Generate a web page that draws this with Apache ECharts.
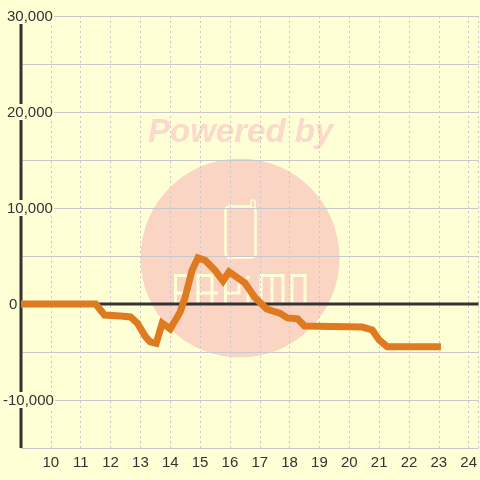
<!DOCTYPE html>
<html><head><meta charset="utf-8">
<style>html,body{margin:0;padding:0;background:#FFFFD5}#c{width:480px;height:480px}</style>
<script src="https://cdn.jsdelivr.net/npm/echarts@6/dist/echarts.min.js"></script></head>
<body><div id="c"></div>
<script>
var hours=[9,11.5,11.8,12.33,12.67,12.9,13.17,13.33,13.53,13.73,14,14.33,14.5,14.73,14.93,15.17,15.5,15.77,15.97,16.23,16.5,16.83,17.23,17.43,17.67,17.93,18.27,18.5,20.43,20.77,21,21.27,23.07];
var values=[0,0,-1150,-1250,-1350,-2000,-3400,-3950,-4100,-2000,-2600,-850,700,3500,4800,4550,3500,2400,3350,2800,2200,700,-520,-730,-950,-1450,-1550,-2290,-2400,-2700,-3750,-4450,-4450];
var yTickLabels=[30000,20000,10000,0,-10000];
var labelPad={'30000':4,'20000':4,'10000':4,'0':6,'-10000':0};
var yLineFrom=-15000,yLineTo=29167;
var xMin=9,xMax=24.33;
var lineData=hours.map(function(h,i){return [h,values[i]];});
var c=echarts.init(document.getElementById('c'));
var ink='#333333',grid='#C8C8CC',pink='#FBD5C4',cream='#FFFFD5';
function fmt(v){return String(v).replace(/\B(?=(\d{3})+$)/g,',');}
var rich={};
yTickLabels.forEach(function(v){rich['k'+(v<0?'n':'')+Math.abs(v)]={padding:[1,1,0,labelPad[v]],backgroundColor:cream,fontSize:15,color:ink,fontFamily:'Liberation Sans',lineHeight:14};});
function logo(points){return {type:'polyline',z:-9,shape:{points:points},style:{fill:'none',stroke:cream,lineWidth:3}};}
c.setOption({
 animation:false,backgroundColor:cream,
 grid:{left:20,right:0,top:16,bottom:32,containLabel:false},
 graphic:{elements:[
  {type:'circle',z:-10,shape:{cx:240,cy:258,r:99.5},style:{fill:pink}},
  {type:'text',z:-10,left:148,top:116,style:{text:'Powered by',font:'italic bold 33px "Liberation Sans"',fill:'#FBD9CB'}},
  {type:'rect',z:-9,shape:{x:225.5,y:206.5,width:30,height:51,r:4},style:{fill:'none',stroke:cream,lineWidth:2.5}},
  {type:'rect',z:-9,shape:{x:251,y:200,width:4,height:8,r:2},style:{fill:pink,stroke:cream,lineWidth:1.5}},
  logo([[175.5,304],[175.5,275.5],[189,275.5],[189,293],[175.5,293]]),
  logo([[198,304],[198,275.5],[212,275.5],[212,304]]),
  logo([[196,293],[218,293]]),
  logo([[225.5,304],[225.5,275.5],[239,275.5],[239,293],[225.5,293]]),
  logo([[248,304],[248,285]]),
  logo([[248,276],[248,279]]),
  logo([[261,304],[261,275.5],[283,275.5],[283,304]]),
  logo([[272,276],[272,304]]),
  logo([[292,304],[292,275.5],[305,275.5],[305,304],[292,304]])
 ]},
 xAxis:{type:'value',min:xMin,max:xMax,interval:1,
  axisLine:{show:false},axisTick:{show:false},
  axisLabel:{color:ink,fontSize:15,fontFamily:'Liberation Sans',margin:7,showMinLabel:false,showMaxLabel:false,formatter:function(v){return Number.isInteger(v)?String(v):'';}},
  splitLine:{show:true,lineStyle:{color:grid,type:[2,3],width:1}}},
 yAxis:[
  {type:'value',min:-15000,max:30000,interval:5000,
   axisLine:{show:false},axisTick:{show:false},axisLabel:{show:false},
   splitLine:{show:true,lineStyle:{color:grid,width:1}}},
  {type:'value',position:'left',min:-15000,max:30000,interval:5000,z:5,
   axisLine:{show:false},axisTick:{show:false},splitLine:{show:false},
   axisLabel:{inside:true,align:'left',margin:-18,rich:rich,formatter:function(v){return v%10000===0&&v>-15000?'{k'+(v<0?'n':'')+Math.abs(v)+'|'+fmt(v)+'}':'';}}}
 ],
 series:[
  {name:'y axis',type:'line',z:1,symbol:'none',silent:true,data:[[xMin,yLineFrom],[xMin,yLineTo]],lineStyle:{color:ink,width:3}},
  {name:'zero',type:'line',z:1,symbol:'none',silent:true,data:[[xMin,0],[xMax,0]],lineStyle:{color:ink,width:3}},
  {name:'value',type:'line',z:3,symbol:'none',silent:true,data:lineData,lineStyle:{color:'#DF7A20',width:7,join:'miter'}}
 ]
});
</script></body></html>
